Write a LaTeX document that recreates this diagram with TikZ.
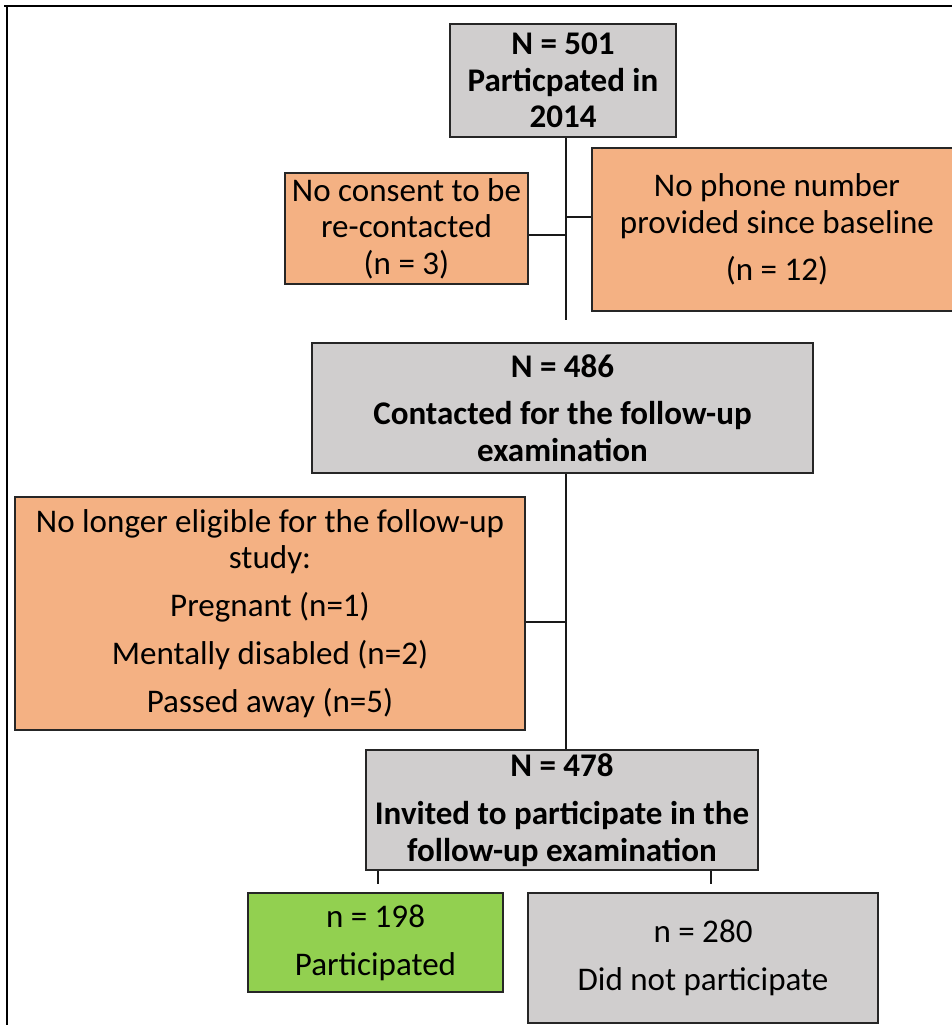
\documentclass[tikz,border=0pt]{standalone}
\usepackage{fontspec}
\setmainfont{Carlito}
\definecolor{boxgray}{HTML}{D0CECE}
\definecolor{boxorange}{HTML}{F4B183}
\definecolor{boxgreen}{HTML}{92D050}
\tikzset{
  box/.style={draw=black!85, line width=1.6pt, inner sep=0pt, align=center,
    font=\fontsize{23.5}{26}\selectfont},
  graybox/.style={box, fill=boxgray, font=\fontsize{23.5}{26}\selectfont\bfseries},
  orangebox/.style={box, fill=boxorange},
  greenbox/.style={box, fill=boxgreen},
  link/.style={line width=1.5pt, black!90}
}
\begin{document}
\begin{tikzpicture}[x=0.025cm, y=-0.025cm]
\useasboundingbox (0,0) rectangle (952,1025);
\draw[line width=1pt] (4,6)--(952,6);
\draw[line width=1pt] (7,6)--(7,1025);
\node[graybox, minimum width=5.65cm, minimum height=2.825cm] (top) at (563,80.5)
  {N = 501\\Particpated in\\2014};
\node[orangebox, minimum width=6.075cm, minimum height=2.775cm] (nocons) at (406.5,228.5)
  {No consent to be\\re-contacted\\(n = 3)};
\node[orangebox, minimum width=9.25cm, minimum height=4.075cm] (phone) at (777,229.5)
  {No phone number\\provided since baseline\\[8pt](n = 12)};
\node[graybox, minimum width=12.525cm, minimum height=3.25cm] (contact) at (562.5,408)
  {N = 486\\[8pt]Contacted for the follow-up\\examination};
\node[orangebox, minimum width=12.75cm, minimum height=5.825cm] (elig) at (270,613.5)
  {No longer eligible for the follow-up\\study:\\[8pt]Pregnant (n=1)\\[8pt]Mentally disabled (n=2)\\[8pt]Passed away (n=5)};
\node[graybox, minimum width=9.8cm, minimum height=3cm] (invited) at (562,810)
  {N = 478\\[8pt]Invited to participate in the\\follow-up examination};
\node[greenbox, minimum width=6.375cm, minimum height=2.475cm] (part) at (375.5,942.5)
  {n = 198\\[8pt]Participated};
\node[box, fill=boxgray, minimum width=8.75cm, minimum height=3.25cm] (notpart) at (703,958)
  {n = 280\\[8pt]Did not participate};
% trunk and branches
\coordinate (trunk) at (566,320);
\coordinate (j1) at (566,235);
\coordinate (j2) at (566,217);
\coordinate (j3) at (566,622);
\coordinate (t1) at (378,884);
\coordinate (t2) at (711,884);
\draw[link] (top.south -| trunk)--(trunk);
\draw[link] (nocons.east |- j1)--(j1);
\draw[link] (j2)--(phone.west |- j2);
\draw[link] (contact.south -| trunk)--(invited.north -| trunk);
\draw[link] (elig.east |- j3)--(j3);
\draw[link] (invited.south -| t1)--(t1);
\draw[link] (invited.south -| t2)--(t2);
\end{tikzpicture}
\end{document}
